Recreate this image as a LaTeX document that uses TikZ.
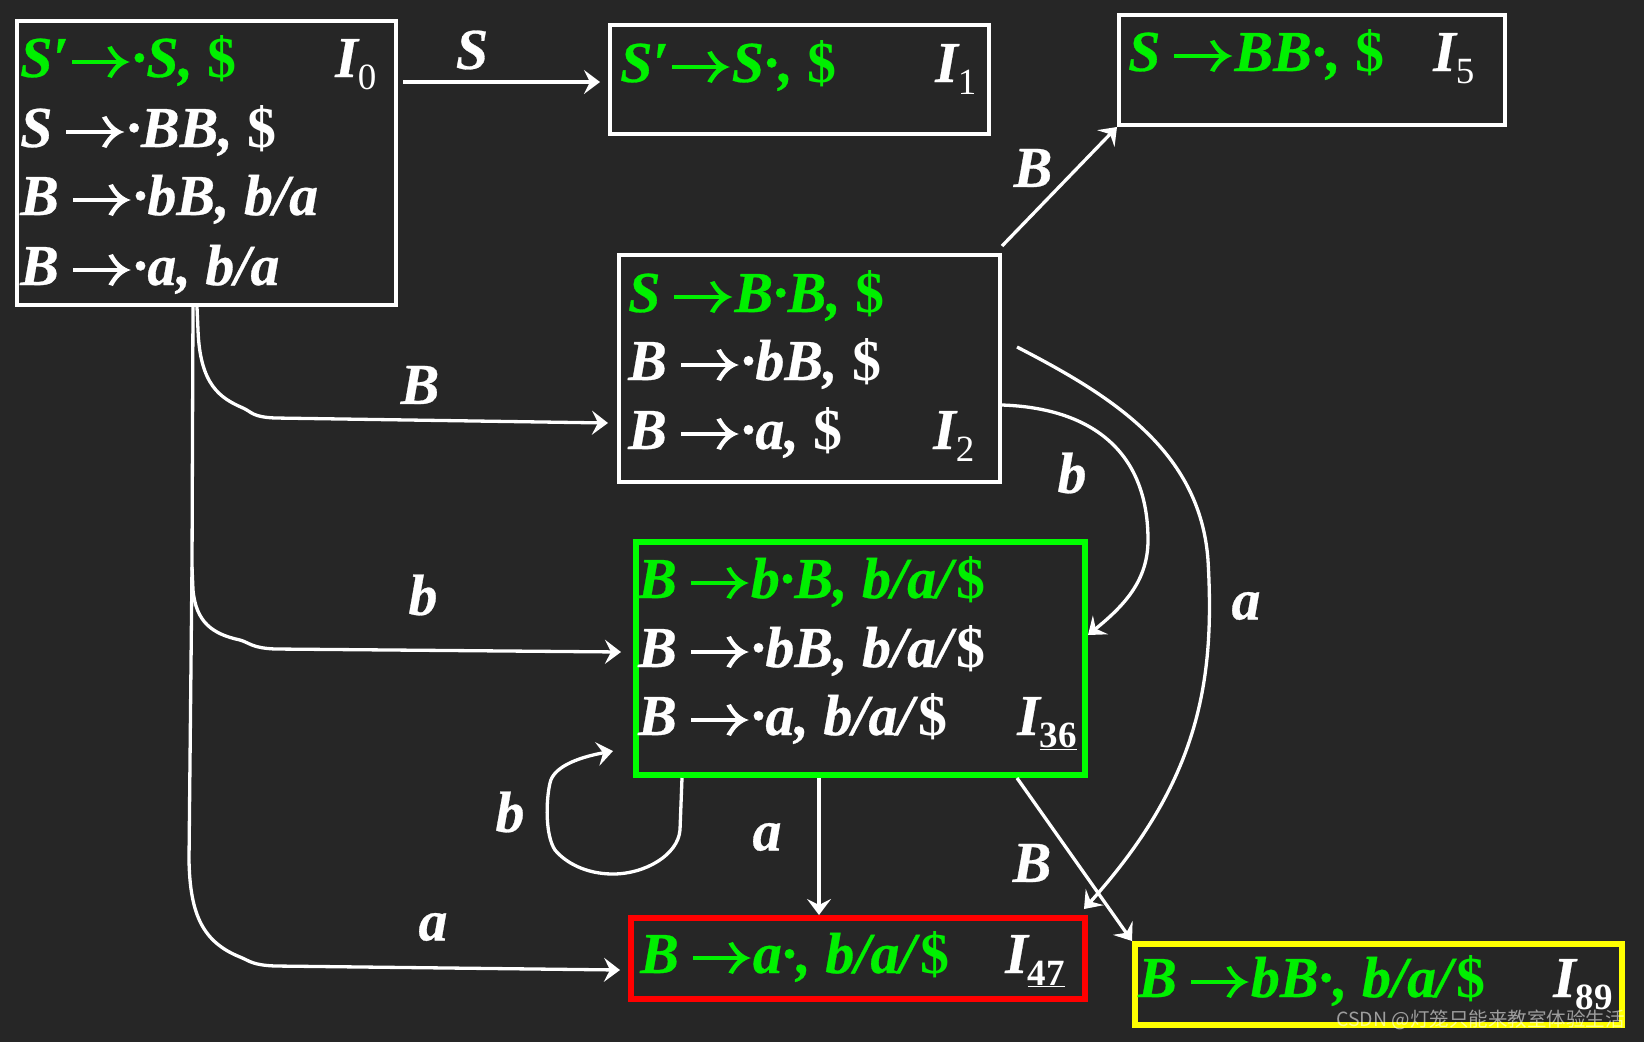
\documentclass[tikz,border=0pt]{standalone}
\usepackage{fontspec}
\setmainfont{Liberation Serif}[BoldItalicFeatures={FakeBold=0.5}]
\newfontfamily\cjk{Noto Sans CJK SC}
\usetikzlibrary{arrows.meta,calc}
\definecolor{bg}{HTML}{262626}
\definecolor{gtext}{HTML}{00F000}
\definecolor{gbox}{HTML}{00FF00}
\definecolor{rbox}{HTML}{FF0000}
\definecolor{ybox}{HTML}{FFFF00}
\newcommand{\arrowglyph}{\tikz[x=1pt,y=1pt,baseline=0pt]{%
  \useasboundingbox (0,0) rectangle (58,30);
  \fill (0,12.6) rectangle (50,17.4);
  \fill (58,15) .. controls (50,17.5) and (44,23) .. (40,31) -- (35.5,29.5)
     .. controls (40,22) and (44,17.5) .. (47,15) .. controls (44,12.5) and (40,8) .. (35.5,0.5)
     -- (40,-1) .. controls (44,7) and (50,12.5) .. (58,15) -- cycle;}}
\newcommand{\ra}{\kern14pt\arrowglyph\kern2pt}
\newcommand{\rp}{\kern3pt\arrowglyph\kern2pt}
\newcommand{\D}{\textup{\$}}
\newcommand{\subl}[1]{\raisebox{-12pt}{\fontsize{37}{37}\selectfont\upshape #1}}
\begin{document}
\begin{tikzpicture}[x=1pt,y=-1pt,
  box/.style={draw=white,line width=4pt,inner sep=0pt,rectangle},
  gbx/.style={draw=gbox,line width=6pt,inner sep=0pt,rectangle},
  rbx/.style={draw=rbox,line width=6pt,inner sep=0pt,rectangle},
  ybx/.style={draw=ybox,line width=6pt,inner sep=0pt,rectangle},
  txt/.style={anchor=base west,inner sep=0pt,font=\fontsize{58}{58}\selectfont\bfseries\itshape},
  lab/.style={inner sep=0pt,text=white,font=\fontsize{58}{58}\selectfont\bfseries\itshape},
  edge/.style={draw=white,line width=3.3pt,line join=round,-{Stealth[length=16pt,width=24pt,inset=6pt]}},
  plain/.style={draw=white,line width=3.3pt,line join=round}
]
\fill[bg] (0,0) rectangle (1644,1042);
\useasboundingbox (0,0) rectangle (1644,1042);

% boxes
\node[box,minimum width=379pt,minimum height=284pt] (I0) at (206.5,163) {};
\node[box,minimum width=379pt,minimum height=109pt] (I1) at (799.5,79.5) {};
\node[box,minimum width=386pt,minimum height=110pt] (I5) at (1312,70) {};
\node[box,minimum width=381pt,minimum height=227pt] (I2) at (809.5,368.5) {};
\node[gbx,minimum width=449pt,minimum height=233pt] (I36) at (860.5,658.5) {};
\node[rbx,minimum width=454pt,minimum height=81pt] (I47) at (858,958.5) {};
\node[ybx,minimum width=487pt,minimum height=81pt] (I89) at (1378.5,984.5) {};

% texts I0
\node[txt,text=gtext] (t0a) at (20,77) {S′\rp·S, \D};
\node[txt,text=white] (t0b) at (20,147) {S\ra·BB, \D};
\node[txt,text=white] (t0c) at (20,215) {B\ra·bB, b/a};
\node[txt,text=white] (t0d) at (20,285) {B\ra·a, b/a};
\node[txt,text=white] (n0) at (335,77) {I\subl{\mdseries 0}};
% I1
\node[txt,text=gtext] (t1a) at (620,82) {S′\rp S·, \D};
\node[txt,text=white] (n1) at (935,82) {I\subl{\mdseries 1}};
% I5
\node[txt,text=gtext] (t5a) at (1128,71) {S\ra BB·, \D};
\node[txt,text=white] (n5) at (1433,71) {I\subl{\mdseries 5}};
% I2
\node[txt,text=gtext] (t2a) at (628,312) {S\ra B·B, \D};
\node[txt,text=white] (t2b) at (628,380) {B\ra·bB, \D};
\node[txt,text=white] (t2c) at (628,449) {B\ra·a, \D};
\node[txt,text=white] (n2) at (933,449) {I\subl{\mdseries 2}};
% I36
\node[txt,text=gtext] (t36a) at (638,598) {B\ra b·B, b/a/\D};
\node[txt,text=white] (t36b) at (638,667) {B\ra·bB, b/a/\D};
\node[txt,text=white] (t36c) at (638,735) {B\ra·a, b/a/\D};
\node[txt,text=white] (n36) at (1017,735) {I\subl{\bfseries\underline{36}}};
% I47
\node[txt,text=gtext] (t47a) at (640,973) {B\ra a·, b/a/\D};
\node[txt,text=white] (n47) at (1005,973) {I\subl{\bfseries\underline{47}}};
% I89
\node[txt,text=gtext] (t89a) at (1138,997) {B\ra bB·, b/a/\D};
\node[txt,text=white] (n89) at (1553,997) {I\subl{\bfseries 89}};

% watermark
\node[anchor=base west,inner sep=0pt,text=white,opacity=0.55,font=\cjk\fontsize{19.5}{19.5}\selectfont] (wm) at (1336,1026) {CSDN @灯笼只能来教室体验生活};

% split coordinate
\coordinate (sp) at (192,567);

% connectors
\draw[edge] ([xshift=5pt]I0.east |- 0,82) -- ([xshift=-8pt]I1.west |- 0,82);
\draw[edge] (I0.south -| 197,0) -- (198,330) .. controls (200,385) and (220,398) .. (243,408)
   .. controls (252,412) and (252,417) .. (275,418) -- ([xshift=-9pt]I2.west |- 0,423);
\draw[plain] (I0.south -| 193,0) -- (sp) -- (189,860);
\draw[edge] (sp) -- (193,590) .. controls (196,622) and (212,634) .. (240,640)
   .. controls (250,643) and (252,648) .. (275,649) -- ([xshift=-12pt]I36.west |- 0,652);
\draw[edge] (189,860) .. controls (190,915) and (203,942) .. (240,957)
   .. controls (250,961) and (252,965) .. (275,966) -- ([xshift=-8pt]I47.west |- 0,970);
\draw[edge] ([yshift=7pt]I2.north east) -- (I5.south west);
\draw[edge] (I2.east |- 0,405) .. controls (1090,408) and (1148,450) .. (1148,540)
   .. controls (1148,580) and (1125,605) .. (I36.east |- 0,635);
\draw[edge] ([xshift=15pt]I2.east |- 0,347) .. controls (1110,395) and (1200,450) .. (1208,560)
   .. controls (1215,680) and (1200,780) .. ([xshift=-4pt,yshift=6pt]I47.north east);
\draw[edge] (I36.south -| 682,0) -- (680,830) .. controls (678,855) and (645,874) .. (613,874)
   .. controls (585,874) and (565,862) .. (555,850) .. controls (545,835) and (546,800) .. (550,783)
   .. controls (553,768) and (575,758) .. ([xshift=-20pt]I36.west |- 0,751);
\draw[edge] (I36.south -| 819,0) -- (I47.north -| 819,0);
\draw[edge] (I36.south -| 1017,0) -- (I89.north west);

% edge labels
\node[lab] (lS) at (472,50) {S};
\node[lab] (lB1) at (420,385) {B};
\node[lab] (lb1) at (423,595) {b};
\node[lab] (la1) at (433,927) {a};
\node[lab] (lB2) at (1033,168) {B};
\node[lab] (lb2) at (1072,473) {b};
\node[lab] (la2) at (1246,606) {a};
\node[lab] (lb3) at (510,812) {b};
\node[lab] (la3) at (767,837) {a};
\node[lab] (lB3) at (1032,863) {B};
\end{tikzpicture}
\end{document}
